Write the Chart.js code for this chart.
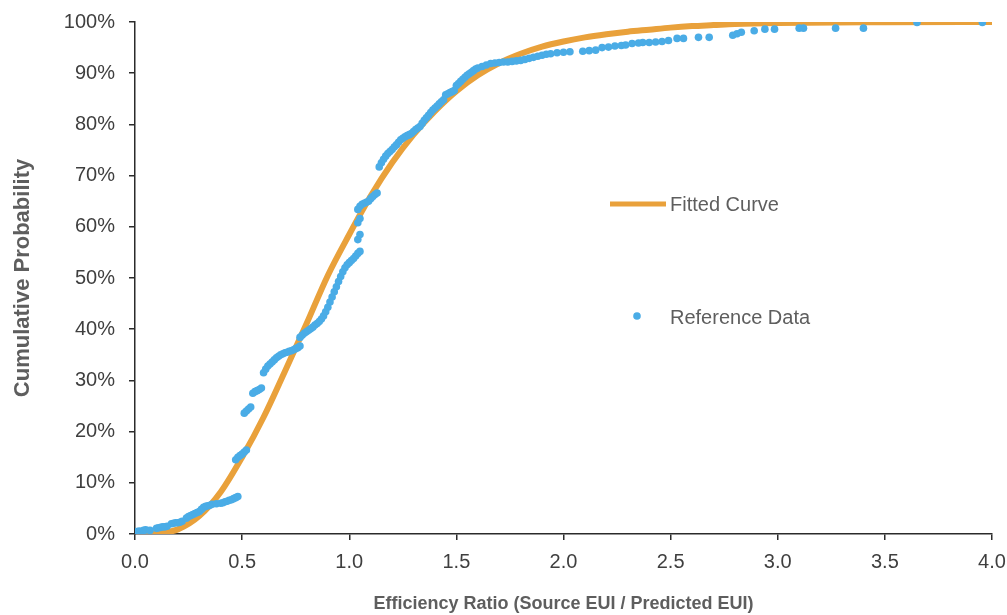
<!DOCTYPE html>
<html>
<head>
<meta charset="utf-8">
<script src="https://cdn.jsdelivr.net/npm/chart.js@4"></script>
<style>
  html, body { margin: 0; padding: 0; background: #ffffff; }
  #wrap { width: 1007px; height: 615px; position: relative; }
</style>
</head>
<body>
<div id="wrap"><canvas id="c" width="1007" height="615"></canvas></div>
<script>
// ---- Data ----
const xTickValues = [0, 0.5, 1.0, 1.5, 2.0, 2.5, 3.0, 3.5, 4.0];
const yTickValues = [0, 10, 20, 30, 40, 50, 60, 70, 80, 90, 100];

const fitX = [0, 0.1, 0.2, 0.3, 0.4, 0.5, 0.6, 0.7, 0.8, 0.9, 1.0, 1.1, 1.2, 1.3, 1.4, 1.5, 1.6, 1.7, 1.8, 1.9, 2.0, 2.1, 2.2, 2.3, 2.4, 2.5, 2.6, 2.7, 2.8, 3.0, 3.5, 4.0];
const fitY = [0, 0.1, 0.9, 3.5, 8.2, 15.0, 22.8, 31.8, 41.0, 50.5, 58.5, 66.0, 72.5, 78.0, 82.6, 86.5, 89.6, 92.0, 93.8, 95.2, 96.2, 97.0, 97.6, 98.1, 98.5, 98.9, 99.2, 99.4, 99.6, 99.8, 99.95, 100];

const refX = [
  0.00, 0.01, 0.02, 0.03, 0.04, 0.05, 0.07, 0.10, 0.11, 0.12, 0.13, 0.14, 0.15, 0.17, 0.18, 0.19, 0.20, 0.21, 0.22,
  0.24, 0.25, 0.26, 0.27, 0.28, 0.29, 0.30, 0.31, 0.32, 0.33, 0.34, 0.35, 0.36, 0.38, 0.40, 0.41, 0.42, 0.43, 0.44,
  0.45, 0.46, 0.47, 0.48,
  0.47, 0.48, 0.49, 0.50, 0.51, 0.52,
  0.51, 0.52, 0.53, 0.54, 0.55, 0.56, 0.57, 0.58, 0.59,
  0.60, 0.61, 0.62, 0.63, 0.64, 0.65, 0.66, 0.67, 0.68, 0.69, 0.70, 0.71, 0.72, 0.73, 0.74, 0.75, 0.76, 0.77,
  0.77, 0.78, 0.79, 0.80, 0.81, 0.82, 0.83, 0.84, 0.85, 0.86, 0.87, 0.88, 0.89, 0.90, 0.91, 0.92, 0.93, 0.94,
  0.95, 0.96, 0.97, 0.98, 0.99, 1.00, 1.01, 1.02, 1.03, 1.04, 1.05,
  1.04, 1.05, 1.04, 1.05, 1.04, 1.05, 1.06, 1.07, 1.08, 1.09, 1.10, 1.11, 1.12, 1.13,
  1.14, 1.15, 1.16, 1.17, 1.18, 1.19, 1.20, 1.21, 1.22, 1.23, 1.24, 1.25, 1.26, 1.27, 1.28, 1.29, 1.30, 1.31,
  1.32, 1.33, 1.34, 1.35, 1.36, 1.37, 1.38, 1.39, 1.40, 1.41, 1.42, 1.43, 1.44, 1.45, 1.46, 1.47, 1.48, 1.49,
  1.50, 1.51, 1.52, 1.53, 1.54, 1.55, 1.56, 1.57, 1.58, 1.59, 1.60, 1.62, 1.64, 1.66, 1.68, 1.70, 1.72, 1.74,
  1.76, 1.78, 1.80, 1.82, 1.84, 1.86, 1.88, 1.90, 1.92, 1.94, 1.97, 2.00, 2.03, 2.09, 2.12, 2.15, 2.18, 2.21,
  2.24, 2.27, 2.29, 2.32, 2.35, 2.37, 2.40, 2.43, 2.46, 2.49, 2.53, 2.56, 2.63, 2.68, 2.79, 2.81, 2.83, 2.89,
  2.94, 2.985, 3.10, 3.12, 3.27, 3.40, 3.65, 3.955
];
const refY = [
  0.4, 0.5, 0.6, 0.5, 0.7, 0.8, 0.7, 1.1, 1.2, 1.3, 1.4, 1.4, 1.5, 2.0, 2.1, 2.2, 2.2, 2.3, 2.5,
  3.1, 3.4, 3.6, 3.8, 4.0, 4.2, 4.4, 4.8, 5.2, 5.4, 5.5, 5.6, 5.8, 5.9, 6.0, 6.1, 6.3, 6.4, 6.6,
  6.7, 6.9, 7.1, 7.3,
  14.5, 15.0, 15.3, 15.6, 16.0, 16.4,
  23.6, 24.0, 24.4, 24.8, 27.5, 27.8, 28.0, 28.2, 28.5,
  31.5, 32.2, 32.8, 33.2, 33.6, 34.0, 34.4, 34.7, 35.0, 35.2, 35.4, 35.5, 35.7, 35.8, 36.0, 36.2, 36.4, 36.7,
  38.4, 38.8, 39.2, 39.5, 39.8, 40.1, 40.4, 40.8, 41.1, 41.5, 42.0, 42.6, 43.4, 44.3, 45.3, 46.3, 47.3, 48.3,
  49.3, 50.3, 51.2, 52.0, 52.6, 53.0, 53.4, 53.8, 54.3, 54.8, 55.2,
  57.5, 58.5, 60.8, 61.6, 63.4, 64.0, 64.4, 64.6, 64.8, 65.0, 65.5, 65.9, 66.3, 66.6,
  71.7, 72.5, 73.2, 73.8, 74.3, 74.7, 75.1, 75.6, 76.0, 76.5, 77.0, 77.3, 77.6, 77.8, 78.0, 78.2, 78.6, 79.0,
  79.3, 79.6, 80.2, 80.8, 81.3, 81.8, 82.3, 82.8, 83.2, 83.6, 84.0, 84.4, 84.8, 85.8, 86.0, 86.2, 86.4, 86.6,
  87.6, 88.0, 88.4, 88.8, 89.2, 89.6, 89.9, 90.2, 90.5, 90.8, 91.0, 91.3, 91.6, 91.9, 92.0, 92.1, 92.2, 92.2,
  92.3, 92.4, 92.5, 92.7, 92.9, 93.1, 93.3, 93.5, 93.7, 93.8, 94.0, 94.1, 94.2, 94.3, 94.4, 94.5, 95.0, 95.1,
  95.3, 95.4, 95.5, 95.8, 95.9, 96.0, 96.0, 96.1, 96.2, 96.4, 96.8, 96.8, 97.0, 97.0, 97.4, 97.7, 98.0, 98.3,
  98.6, 98.6, 98.8, 98.8, 98.8, 98.8, 99.9, 99.9
];

const seriesNames = ['Fitted Curve', 'Reference Data'];
const xTitle = 'Efficiency Ratio (Source EUI / Predicted EUI)';
const yTitle = 'Cumulative Probability';

const ORANGE = '#E9A13B';
const BLUE = '#4AACE6';
const AXIS = '#2b2b2b';
const TICKTXT = '#3f3f3f';
const TITLETXT = '#5e5e5e';
const FONT = "'Liberation Sans', Arial, sans-serif";

const fitData = fitX.map((x, i) => ({ x: x, y: fitY[i] }));
const refData = refX.map((x, i) => ({ x: x, y: refY[i] }));

const legendPlugin = {
  id: 'customLegend',
  afterDraw(chart) {
    const ctx = chart.ctx;
    ctx.save();
    ctx.strokeStyle = ORANGE;
    ctx.lineWidth = 5;
    ctx.lineCap = 'butt';
    ctx.beginPath();
    ctx.moveTo(610, 204);
    ctx.lineTo(666, 204);
    ctx.stroke();
    ctx.fillStyle = BLUE;
    ctx.beginPath();
    ctx.arc(637, 316, 3.8, 0, Math.PI * 2);
    ctx.fill();
    ctx.fillStyle = TITLETXT;
    ctx.font = "20px " + FONT;
    ctx.textBaseline = 'middle';
    ctx.textAlign = 'left';
    ctx.fillText(seriesNames[0], 670, 205);
    ctx.fillText(seriesNames[1], 670, 318);
    ctx.restore();
  }
};

new Chart(document.getElementById('c'), {
  type: 'scatter',
  data: {
    datasets: [
      {
        label: seriesNames[1],
        data: refData,
        showLine: false,
        pointRadius: 3.8,
        pointHoverRadius: 3.8,
        pointBorderWidth: 0,
        backgroundColor: BLUE,
        borderColor: BLUE,
        order: 0
      },
      {
        label: seriesNames[0],
        data: fitData,
        showLine: true,
        pointRadius: 0,
        borderColor: ORANGE,
        backgroundColor: ORANGE,
        borderWidth: 6,
        cubicInterpolationMode: 'monotone',
        order: 1
      }
    ]
  },
  options: {
    responsive: false,
    animation: false,
    devicePixelRatio: 1,
    layout: { padding: { left: 0, right: 15, top: 22, bottom: 0 } },
    plugins: {
      legend: { display: false },
      tooltip: { enabled: false }
    },
    scales: {
      x: {
        type: 'linear',
        min: 0,
        max: 4,
        afterFit(scale) { scale.height = 81; scale.paddingLeft = 0; scale.paddingRight = 0; },
        afterBuildTicks(scale) { scale.ticks = xTickValues.map(v => ({ value: v })); },
        ticks: {
          color: TICKTXT,
          font: { family: FONT, size: 20 },
          padding: 10,
          maxRotation: 0,
          callback: v => Number(v).toFixed(1)
        },
        grid: { drawOnChartArea: false, drawTicks: true, tickLength: 6, color: AXIS, lineWidth: 1.5 },
        border: { display: true, color: AXIS, width: 1.5 },
        title: {
          display: true,
          text: xTitle,
          color: TITLETXT,
          font: { family: FONT, size: 18, weight: 'bold' },
          padding: { top: 0, bottom: 0 }
        }
      },
      y: {
        type: 'linear',
        min: 0,
        max: 100,
        afterFit(scale) { scale.width = 135; scale.paddingTop = 0; scale.paddingBottom = 0; },
        afterBuildTicks(scale) { scale.ticks = yTickValues.map(v => ({ value: v })); },
        ticks: {
          color: TICKTXT,
          font: { family: FONT, size: 20 },
          padding: 14,
          callback: v => v + '%'
        },
        grid: { drawOnChartArea: false, drawTicks: true, tickLength: 6, color: AXIS, lineWidth: 1.5 },
        border: { display: true, color: AXIS, width: 1.5 },
        title: {
          display: true,
          text: yTitle,
          color: TITLETXT,
          font: { family: FONT, size: 22, weight: 'bold' },
          padding: { top: 10, bottom: 0 }
        }
      }
    }
  },
  plugins: [legendPlugin]
});
</script>
</body>
</html>
